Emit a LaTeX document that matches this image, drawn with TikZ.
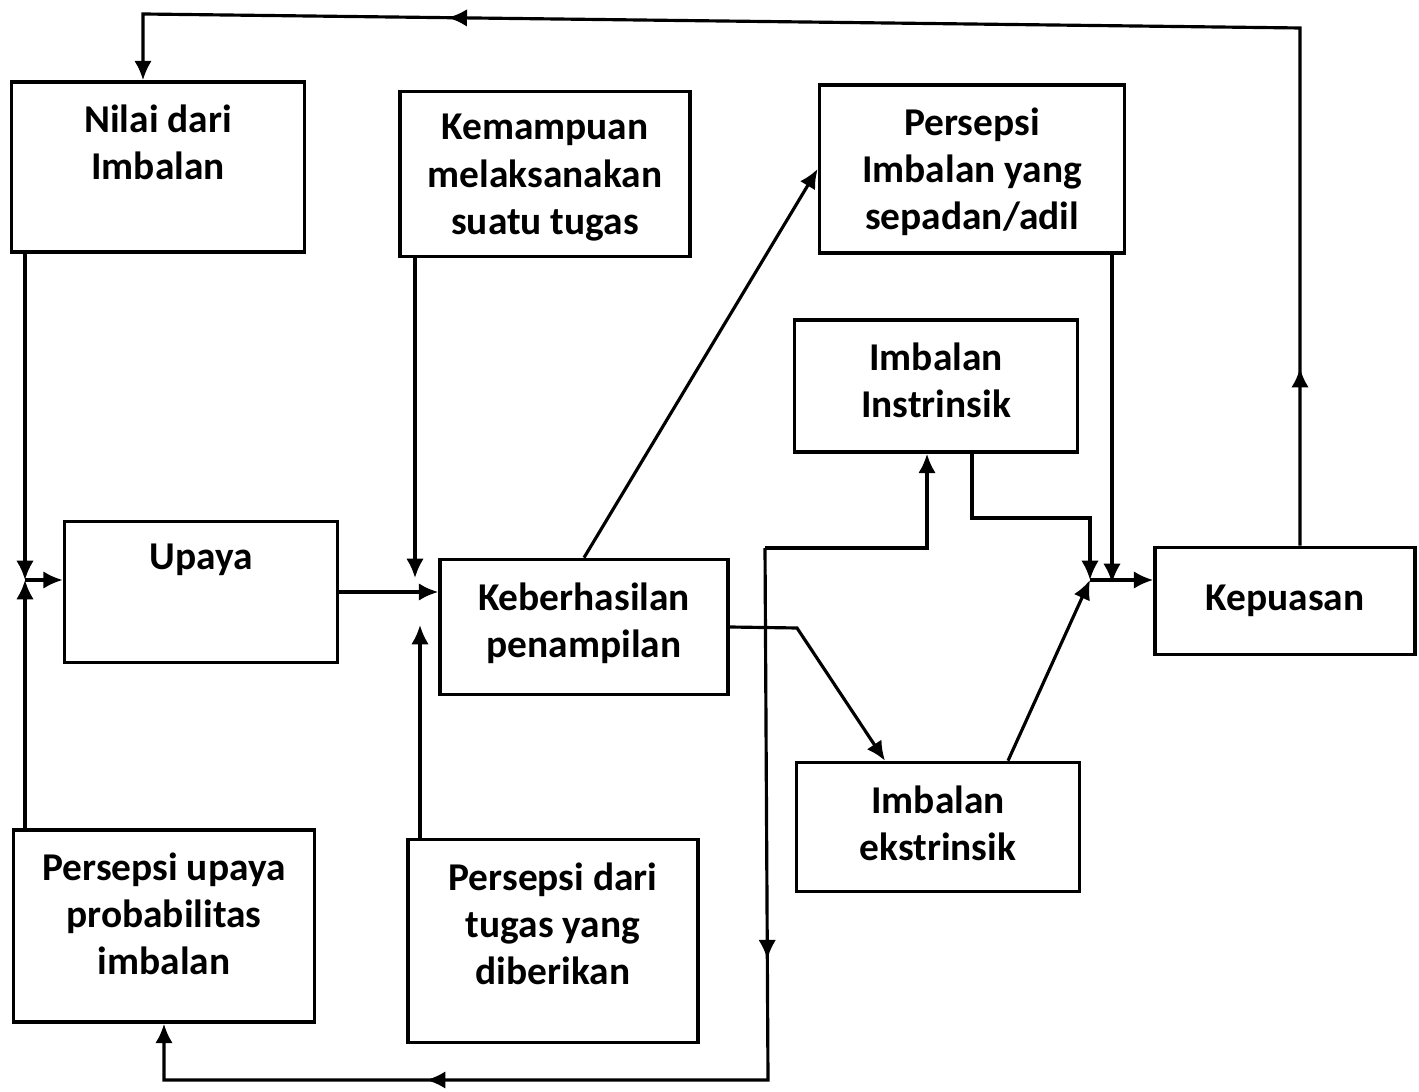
\documentclass[tikz,border=0pt]{standalone}
\usepackage{fontspec}
\setmainfont{Carlito}
\usetikzlibrary{arrows.meta,decorations.markings}

\tikzset{
  kotak/.style={draw, line width=1pt, inner sep=0pt},
  isi/.style={anchor=north, yshift=-0.24cm, align=center, inner sep=0pt,
    font=\bfseries\fontsize{11.2}{13.4}\selectfont},
  garis/.style={line width=0.9pt, line join=miter},
  panah/.style={garis, -{Latex[length=5.5pt,width=5pt]}}
}

\begin{document}
\begin{tikzpicture}[x=0.01cm, y=-0.01cm]
\useasboundingbox (0,0) rectangle (1419,1092);

		%draw boxes
		\node[kotak, minimum width=2.93cm, minimum height=1.70cm] (nilai) at (158,167) {};
		\node[kotak, minimum width=2.90cm, minimum height=1.65cm] (mampu) at (545,174) {};
		\node[kotak, minimum width=3.05cm, minimum height=1.68cm] (padil) at (972,169) {};
		\node[kotak, minimum width=2.83cm, minimum height=1.32cm] (inst) at (936,386) {};
		\node[kotak, minimum width=2.73cm, minimum height=1.41cm] (upaya) at (201,592) {};
		\node[kotak, minimum width=2.88cm, minimum height=1.35cm] (hasil) at (584,627) {};
		\node[kotak, minimum width=2.60cm, minimum height=1.07cm,
		  font=\bfseries\fontsize{11.2}{13.4}\selectfont] (puas) at (1285,601) {Kepuasan};
		\node[kotak, minimum width=2.83cm, minimum height=1.29cm] (ekstr) at (938,827) {};
		\node[kotak, minimum width=3.01cm, minimum height=1.92cm] (pupaya) at (164,926) {};
		\node[kotak, minimum width=2.90cm, minimum height=2.03cm] (ptugas) at (553,941) {};

		%texts
		\node[isi] (nilaiT) at (nilai.north) {Nilai dari\\Imbalan};
		\node[isi] (mampuT) at (mampu.north) {Kemampuan\\melaksanakan\\suatu tugas};
		\node[isi] (padilT) at (padil.north) {Persepsi\\Imbalan yang\\sepadan/adil};
		\node[isi] (instT) at (inst.north) {Imbalan\\Instrinsik};
		\node[isi] (upayaT) at (upaya.north) {Upaya};
		\node[isi] (hasilT) at (hasil.north) {Keberhasilan\\penampilan};
		\node[isi] (ekstrT) at (ekstr.north) {Imbalan\\ekstrinsik};
		\node[isi] (pupayaT) at (pupaya.north) {Persepsi upaya\\probabilitas\\imbalan};
		\node[isi] (ptugasT) at (ptugas.north) {Persepsi dari\\tugas yang\\diberikan};

		%junction points
		\coordinate (jKiri) at (25,580);
		\coordinate (jMampu) at (415,578);
		\coordinate (jTugas) at (420,625);
		\coordinate (jKanan) at (1090,580);
		\coordinate (jAdil) at (1112,583);
		\coordinate (bEkstr) at (797,628);
		\coordinate (xEkstr) at (885,0);
		\coordinate (xEkstr2) at (1008,0);
		\coordinate (belok) at (972,518);
		\coordinate (fAtas) at (765,548);
		\coordinate (xInst) at (927,0);
		\coordinate (fBawah) at (768,1080);
		\coordinate (atasKanan) at (1300,28);
		\coordinate (atasKiri) at (143,14);

		%left side
		\draw[panah] (nilai.south -| jKiri) -- (jKiri);
		\draw[panah] (pupaya.north -| jKiri) -- (jKiri);
		\draw[panah] (jKiri) -- (jKiri -| upaya.west);
		\draw[panah] (upaya.east) -- (upaya.east -| hasil.west);
		\draw[panah] (mampu.south -| jMampu) -- (jMampu);
		\draw[panah] (ptugas.north -| jTugas) -- (jTugas);

		%from Keberhasilan penampilan
		\draw[panah] (hasil.north) -- (padil.west);
		\draw[panah] (hasil.east) -- (bEkstr) -- (ekstr.north -| xEkstr);
		\draw[panah] (fAtas) -- (fAtas -| xInst) -- (inst.south -| xInst);
		\draw[panah, postaction={decorate}, decoration={markings,
		  mark=at position 0.345 with {\arrow{Latex[length=5.5pt,width=5pt]}},
		  mark=at position 0.733 with {\arrow{Latex[length=5.5pt,width=5pt]}}}]
		  (fAtas) -- (fBawah) -| (pupaya.south);

		%right side
		\draw[panah] (inst.south -| belok) -- (belok) -| (jKanan);
		\draw[panah] (ekstr.north -| xEkstr2) -- (jKanan);
		\draw[panah] (padil.south -| jAdil) -- (jAdil);
		\draw[panah] (jKanan) -- (jKanan -| puas.west);

		%top loop
		\draw[panah, postaction={decorate}, decoration={markings,
		  mark=at position 0.102 with {\arrow{Latex[length=5.5pt,width=5pt]}},
		  mark=at position 0.787 with {\arrow{Latex[length=5.5pt,width=5pt]}}}]
		  (puas.north -| atasKanan) -- (atasKanan) -- (atasKiri) -- (nilai.north -| atasKiri);
\end{tikzpicture}
\end{document}
